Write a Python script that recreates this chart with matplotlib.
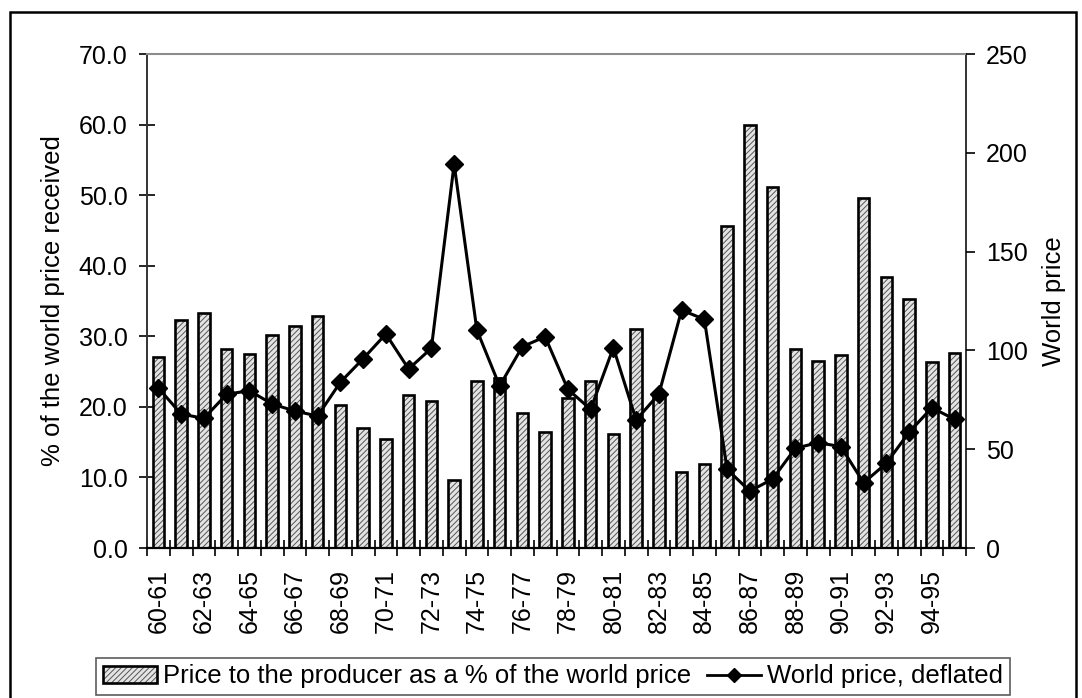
import numpy as np
import matplotlib
matplotlib.use("Agg")
import matplotlib.pyplot as plt
from matplotlib.patches import Patch, Rectangle
from matplotlib.lines import Line2D
from matplotlib.legend_handler import HandlerTuple
from matplotlib.ticker import FormatStrFormatter

plt.rcParams['font.family'] = ['Liberation Sans', 'DejaVu Sans']
plt.rcParams['hatch.linewidth'] = 0.7

# crop seasons 1960-61 .. 1995-96
seasons = ["%02d-%02d" % (y, y + 1) for y in range(60, 96)]

# producer price as % of world price (left axis)
pct_world = [27.1, 32.3, 33.3, 28.2, 27.5, 30.2, 31.5, 32.9, 20.3, 17.0,
             15.5, 21.7, 20.8, 9.7, 23.6, 24.1, 19.2, 16.4, 21.2, 23.7,
             16.2, 31.1, 21.8, 10.7, 11.9, 45.6, 60.0, 51.1, 28.2, 26.5,
             27.4, 49.6, 38.4, 35.3, 26.3, 27.6]

# world price, deflated (right axis)
world_price = [81.0, 67.8, 65.6, 77.8, 79.6, 72.9, 69.3, 66.8, 83.9, 95.8,
               108.3, 90.6, 101.1, 194.3, 110.3, 82.0, 101.9, 106.9, 80.3, 70.2,
               101.4, 64.8, 77.9, 120.4, 115.7, 39.8, 28.8, 34.9, 50.5, 53.3,
               51.3, 33.0, 42.9, 58.6, 71.0, 65.1]

bar_name = "Price to the producer as a % of the world price"
line_name = "World price, deflated"

x = np.arange(len(seasons))

fig = plt.figure(figsize=(10.82, 6.98), dpi=100)
ax = fig.add_axes([147 / 1082, 1 - 548 / 698, 819 / 1082, 494 / 698])
ax2 = ax.twinx()

# bars: hatched fill first, then black outline on top
ax.bar(x, pct_world, width=0.5, color="#e4e4e4", edgecolor="#555555",
       hatch="//////", linewidth=0, zorder=2)
ax.bar(x, pct_world, width=0.5, fill=False, edgecolor="black",
       linewidth=1.9, zorder=3)

ax2.plot(x, world_price, color="black", linewidth=2.2, marker="D",
         markersize=9, markerfacecolor="black", zorder=4)

ax.set_xlim(-0.5, len(seasons) - 0.5)
ax.set_ylim(0, 70)
ax2.set_ylim(0, 250)
ax.set_yticks(np.arange(0, 71, 10))
ax.yaxis.set_major_formatter(FormatStrFormatter("%.1f"))
ax2.set_yticks(np.arange(0, 251, 50))

ax.set_xticks(x[::2])
ax.set_xticklabels(seasons[::2], rotation=90)
ax.set_xticks(np.arange(-0.5, len(seasons), 1), minor=True)
ax.tick_params(axis="x", which="major", length=0, pad=15, labelsize=18)
ax.tick_params(axis="x", which="minor", direction="inout", length=12,
               width=1.2)
ax.tick_params(axis="y", direction="inout", length=12, width=1.2, pad=8,
               labelsize=18)
ax2.tick_params(axis="y", direction="out", length=6.5, width=1.2, pad=8,
                labelsize=18)

ax.set_ylabel("% of the world price received", fontsize=18.5)
ax.yaxis.set_label_coords(-0.100, 0.5)
ax2.set_ylabel("World price", fontsize=18.5)
ax2.yaxis.set_label_coords(1.093, 0.5)

for s in ("top", "left", "bottom", "right"):
    ax2.spines[s].set_visible(False)
ax.spines["top"].set_color("#8c8c8c")
ax.spines["top"].set_linewidth(1.5)
ax.spines["left"].set_color("#333333")
ax.spines["left"].set_linewidth(1.4)
ax.spines["right"].set_color("#333333")
ax.spines["right"].set_linewidth(1.4)
ax.spines["bottom"].set_linewidth(1.6)

# legend: hatched patch with black outline, line with diamond
h_fill = Patch(facecolor="#e4e4e4", edgecolor="#555555", hatch="//////",
               linewidth=0)
h_edge = Patch(fill=False, edgecolor="black", linewidth=1.9)
h_line = Line2D([], [], color="black", linewidth=2, marker="D",
                markersize=7.5)
leg = fig.legend([(h_fill, h_edge), h_line], [bar_name, line_name],
                 handler_map={tuple: HandlerTuple(ndivide=1)},
                 loc="center", bbox_to_anchor=(553 / 1082, 1 - 676.5 / 698),
                 ncol=2, fontsize=18.5, frameon=True, fancybox=False,
                 edgecolor="#333333", borderpad=0.25, handlelength=2.1,
                 handletextpad=0.25, columnspacing=0.6, handleheight=0.6)
leg.get_frame().set_linewidth(1.2)

# outer chart border
fig.patches.append(Rectangle((10 / 1082, -0.02), 1066 / 1082, 1 - 12 / 698 + 0.02,
                             transform=fig.transFigure, fill=False,
                             edgecolor="black", linewidth=1.8))

fig.savefig("out.png", dpi=100)
